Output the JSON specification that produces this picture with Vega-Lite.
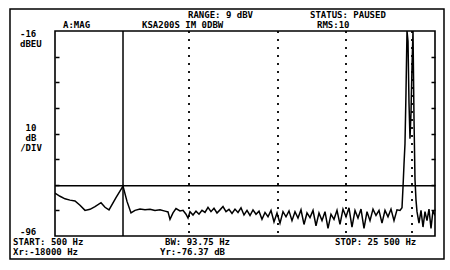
{
  "$schema": "https://vega.github.io/schema/vega-lite/v6.json",
  "width": 380,
  "height": 205,
  "autosize": {"type": "none"},
  "padding": {"left": 55, "top": 31, "right": 15, "bottom": 34},
  "background": "white",
  "config": {"view": {"stroke": "black", "strokeWidth": 1.6}},
  "datasets": {
    "frame": [{"x1": -2461, "x2": 26092, "y1": -7.41, "y2": -104.97}],
    "dotted": [{"f": 9316}, {"f": 15171}, {"f": 19645}, {"f": 23987}],
    "trace": [
      {"f": 500, "a": -79.3}, {"f": 829, "a": -80.5}, {"f": 1158, "a": -81.5}, {"f": 1487, "a": -82.0},
      {"f": 1816, "a": -82.3}, {"f": 2145, "a": -84.0}, {"f": 2474, "a": -86.0}, {"f": 2803, "a": -85.6},
      {"f": 3132, "a": -84.5}, {"f": 3526, "a": -83.0}, {"f": 3789, "a": -84.8}, {"f": 4053, "a": -85.8},
      {"f": 4513, "a": -81.0}, {"f": 4974, "a": -76.5}, {"f": 5237, "a": -82.5}, {"f": 5500, "a": -87.0},
      {"f": 5763, "a": -86.0}, {"f": 6092, "a": -85.5}, {"f": 6421, "a": -85.8}, {"f": 6750, "a": -85.6},
      {"f": 7079, "a": -86.0}, {"f": 7408, "a": -85.8}, {"f": 7737, "a": -86.3}, {"f": 7934, "a": -86.6},
      {"f": 8066, "a": -89.5}, {"f": 8263, "a": -87.0}, {"f": 8461, "a": -85.3}, {"f": 8724, "a": -86.2},
      {"f": 8921, "a": -86.0}, {"f": 9118, "a": -87.5}, {"f": 9250, "a": -89.0}, {"f": 9382, "a": -86.5},
      {"f": 9579, "a": -87.8}, {"f": 9776, "a": -86.3}, {"f": 9974, "a": -87.5}, {"f": 10171, "a": -86.0},
      {"f": 10368, "a": -86.8}, {"f": 10566, "a": -84.8}, {"f": 10763, "a": -86.5}, {"f": 10960, "a": -85.2},
      {"f": 11158, "a": -87.0}, {"f": 11355, "a": -85.8}, {"f": 11553, "a": -84.5}, {"f": 11750, "a": -86.5},
      {"f": 11947, "a": -85.6}, {"f": 12145, "a": -87.2}, {"f": 12342, "a": -85.5}, {"f": 12539, "a": -86.8},
      {"f": 12737, "a": -85.0}, {"f": 12934, "a": -87.8}, {"f": 13132, "a": -86.0}, {"f": 13329, "a": -88.0},
      {"f": 13526, "a": -85.8}, {"f": 13724, "a": -87.5}, {"f": 13921, "a": -86.3}, {"f": 14118, "a": -89.5},
      {"f": 14316, "a": -86.8}, {"f": 14513, "a": -88.5}, {"f": 14711, "a": -86.0}, {"f": 14908, "a": -90.5},
      {"f": 15105, "a": -87.0}, {"f": 15303, "a": -91.0}, {"f": 15500, "a": -86.5}, {"f": 15697, "a": -88.5},
      {"f": 15895, "a": -86.2}, {"f": 16092, "a": -90.0}, {"f": 16289, "a": -86.5}, {"f": 16487, "a": -89.0},
      {"f": 16684, "a": -85.8}, {"f": 16882, "a": -91.5}, {"f": 17079, "a": -87.0}, {"f": 17276, "a": -88.8},
      {"f": 17474, "a": -86.0}, {"f": 17671, "a": -92.0}, {"f": 17868, "a": -87.0}, {"f": 18066, "a": -90.0},
      {"f": 18263, "a": -86.5}, {"f": 18461, "a": -93.0}, {"f": 18658, "a": -87.5}, {"f": 18855, "a": -89.5},
      {"f": 19053, "a": -86.0}, {"f": 19250, "a": -91.5}, {"f": 19447, "a": -85.5}, {"f": 19645, "a": -88.5},
      {"f": 19842, "a": -85.0}, {"f": 20039, "a": -92.5}, {"f": 20237, "a": -86.0}, {"f": 20434, "a": -89.0},
      {"f": 20632, "a": -85.5}, {"f": 20829, "a": -93.0}, {"f": 21026, "a": -86.5}, {"f": 21224, "a": -90.0},
      {"f": 21421, "a": -85.5}, {"f": 21618, "a": -88.0}, {"f": 21816, "a": -86.0}, {"f": 22013, "a": -91.0},
      {"f": 22211, "a": -86.0}, {"f": 22408, "a": -88.5}, {"f": 22605, "a": -85.5}, {"f": 22803, "a": -90.0},
      {"f": 23000, "a": -85.8}, {"f": 23197, "a": -86.0}, {"f": 23329, "a": -85.0}, {"f": 23395, "a": -77.0},
      {"f": 23461, "a": -68.0}, {"f": 23526, "a": -60.0}, {"f": 23592, "a": -40.0}, {"f": 23658, "a": -16.0},
      {"f": 23724, "a": -20.0}, {"f": 23789, "a": -44.0}, {"f": 23855, "a": -58.0}, {"f": 23921, "a": -48.0},
      {"f": 23987, "a": -30.0}, {"f": 24053, "a": -16.0}, {"f": 24118, "a": -50.0}, {"f": 24184, "a": -74.0},
      {"f": 24250, "a": -82.0}, {"f": 24316, "a": -86.5}, {"f": 24447, "a": -91.0}, {"f": 24579, "a": -86.0},
      {"f": 24711, "a": -92.5}, {"f": 24842, "a": -86.5}, {"f": 24974, "a": -90.0}, {"f": 25105, "a": -85.5},
      {"f": 25237, "a": -93.0}, {"f": 25368, "a": -86.0}, {"f": 25500, "a": -88.0}
    ],
    "labels": [
      {"t": "RANGE: 9 dBV", "f": 9250, "a": -9.76},
      {"t": "STATUS: PAUSED", "f": 17276, "a": -9.76},
      {"t": "A:MAG", "f": 1026, "a": -13.66},
      {"t": "KSA200S IM 0DBW", "f": 6224, "a": -13.66},
      {"t": "RMS:10", "f": 17737, "a": -13.66},
      {"t": "-16", "f": -1803, "a": -17.17},
      {"t": "dBEU", "f": -1803, "a": -21.07},
      {"t": "-96", "f": -1803, "a": -94.63},
      {"t": "START: 500 Hz", "f": -2263, "a": -98.53},
      {"t": "Xr:-18000 Hz", "f": -2263, "a": -102.43},
      {"t": "BW: 93.75 Hz", "f": 7737, "a": -98.53},
      {"t": "Yr:-76.37 dB", "f": 7408, "a": -102.43},
      {"t": "STOP: 25 500 Hz", "f": 18921, "a": -98.53}
    ],
    "labelsCenter": [
      {"t": "10", "f": -1079, "a": -53.85},
      {"t": "dB", "f": -1079, "a": -57.76},
      {"t": "/DIV", "f": -1079, "a": -61.66}
    ]
  },
  "resolve": {"axis": {"y": "independent"}},
  "layer": [
    {
      "data": {"name": "frame"},
      "mark": {"type": "rect", "fill": "transparent", "stroke": "black", "strokeWidth": 1.5},
      "encoding": {
        "x": {"field": "x1", "type": "quantitative", "scale": {"domain": [500, 25500], "nice": false, "zero": false}, "axis": null},
        "x2": {"field": "x2"},
        "y": {"field": "y1", "type": "quantitative", "scale": {"domain": [-96, -16], "nice": false, "zero": false}, "axis": null},
        "y2": {"field": "y2"}
      }
    },
    {
      "data": {"name": "dotted"},
      "mark": {"type": "rule", "stroke": "black", "strokeWidth": 1.8, "strokeDash": [2, 6]},
      "encoding": {
        "x": {"field": "f", "type": "quantitative", "scale": {"domain": [500, 25500], "nice": false, "zero": false}, "axis": null}
      }
    },
    {
      "data": {"values": [{"f": 4974}]},
      "mark": {"type": "rule", "stroke": "black", "strokeWidth": 1.5},
      "encoding": {
        "x": {"field": "f", "type": "quantitative", "scale": {"domain": [500, 25500], "nice": false, "zero": false}, "axis": null}
      }
    },
    {
      "data": {"values": [{"a": -76.37}]},
      "mark": {"type": "rule", "stroke": "black", "strokeWidth": 1.5},
      "encoding": {
        "y": {"field": "a", "type": "quantitative", "scale": {"domain": [-96, -16], "nice": false, "zero": false},
          "axis": {"orient": "right", "labels": false, "domain": false, "grid": false, "title": null, "ticks": true, "tickSize": -4, "tickWidth": 1.5, "tickColor": "black", "values": [-86, -76, -66, -56, -46, -36, -26]}}
      }
    },
    {
      "data": {"name": "trace"},
      "mark": {"type": "line", "stroke": "black", "strokeWidth": 1.5, "clip": true},
      "encoding": {
        "x": {"field": "f", "type": "quantitative", "scale": {"domain": [500, 25500], "nice": false, "zero": false}, "axis": null},
        "y": {"field": "a", "type": "quantitative", "scale": {"domain": [-96, -16], "nice": false, "zero": false},
          "axis": {"orient": "left", "labels": false, "domain": false, "grid": false, "title": null, "ticks": true, "tickSize": -4, "tickWidth": 1.5, "tickColor": "black", "values": [-86, -76, -66, -56, -46, -36, -26]}}
      }
    },
    {
      "data": {"name": "labels"},
      "mark": {"type": "text", "align": "left", "baseline": "middle", "font": "DejaVu Sans Mono", "fontWeight": "bold", "fontSize": 9, "color": "black"},
      "encoding": {
        "x": {"field": "f", "type": "quantitative", "scale": {"domain": [500, 25500], "nice": false, "zero": false}, "axis": null},
        "y": {"field": "a", "type": "quantitative", "scale": {"domain": [-96, -16], "nice": false, "zero": false}, "axis": null},
        "text": {"field": "t"}
      }
    },
    {
      "data": {"name": "labelsCenter"},
      "mark": {"type": "text", "align": "center", "baseline": "middle", "font": "DejaVu Sans Mono", "fontWeight": "bold", "fontSize": 9, "color": "black"},
      "encoding": {
        "x": {"field": "f", "type": "quantitative", "scale": {"domain": [500, 25500], "nice": false, "zero": false}, "axis": null},
        "y": {"field": "a", "type": "quantitative", "scale": {"domain": [-96, -16], "nice": false, "zero": false}, "axis": null},
        "text": {"field": "t"}
      }
    }
  ]
}
